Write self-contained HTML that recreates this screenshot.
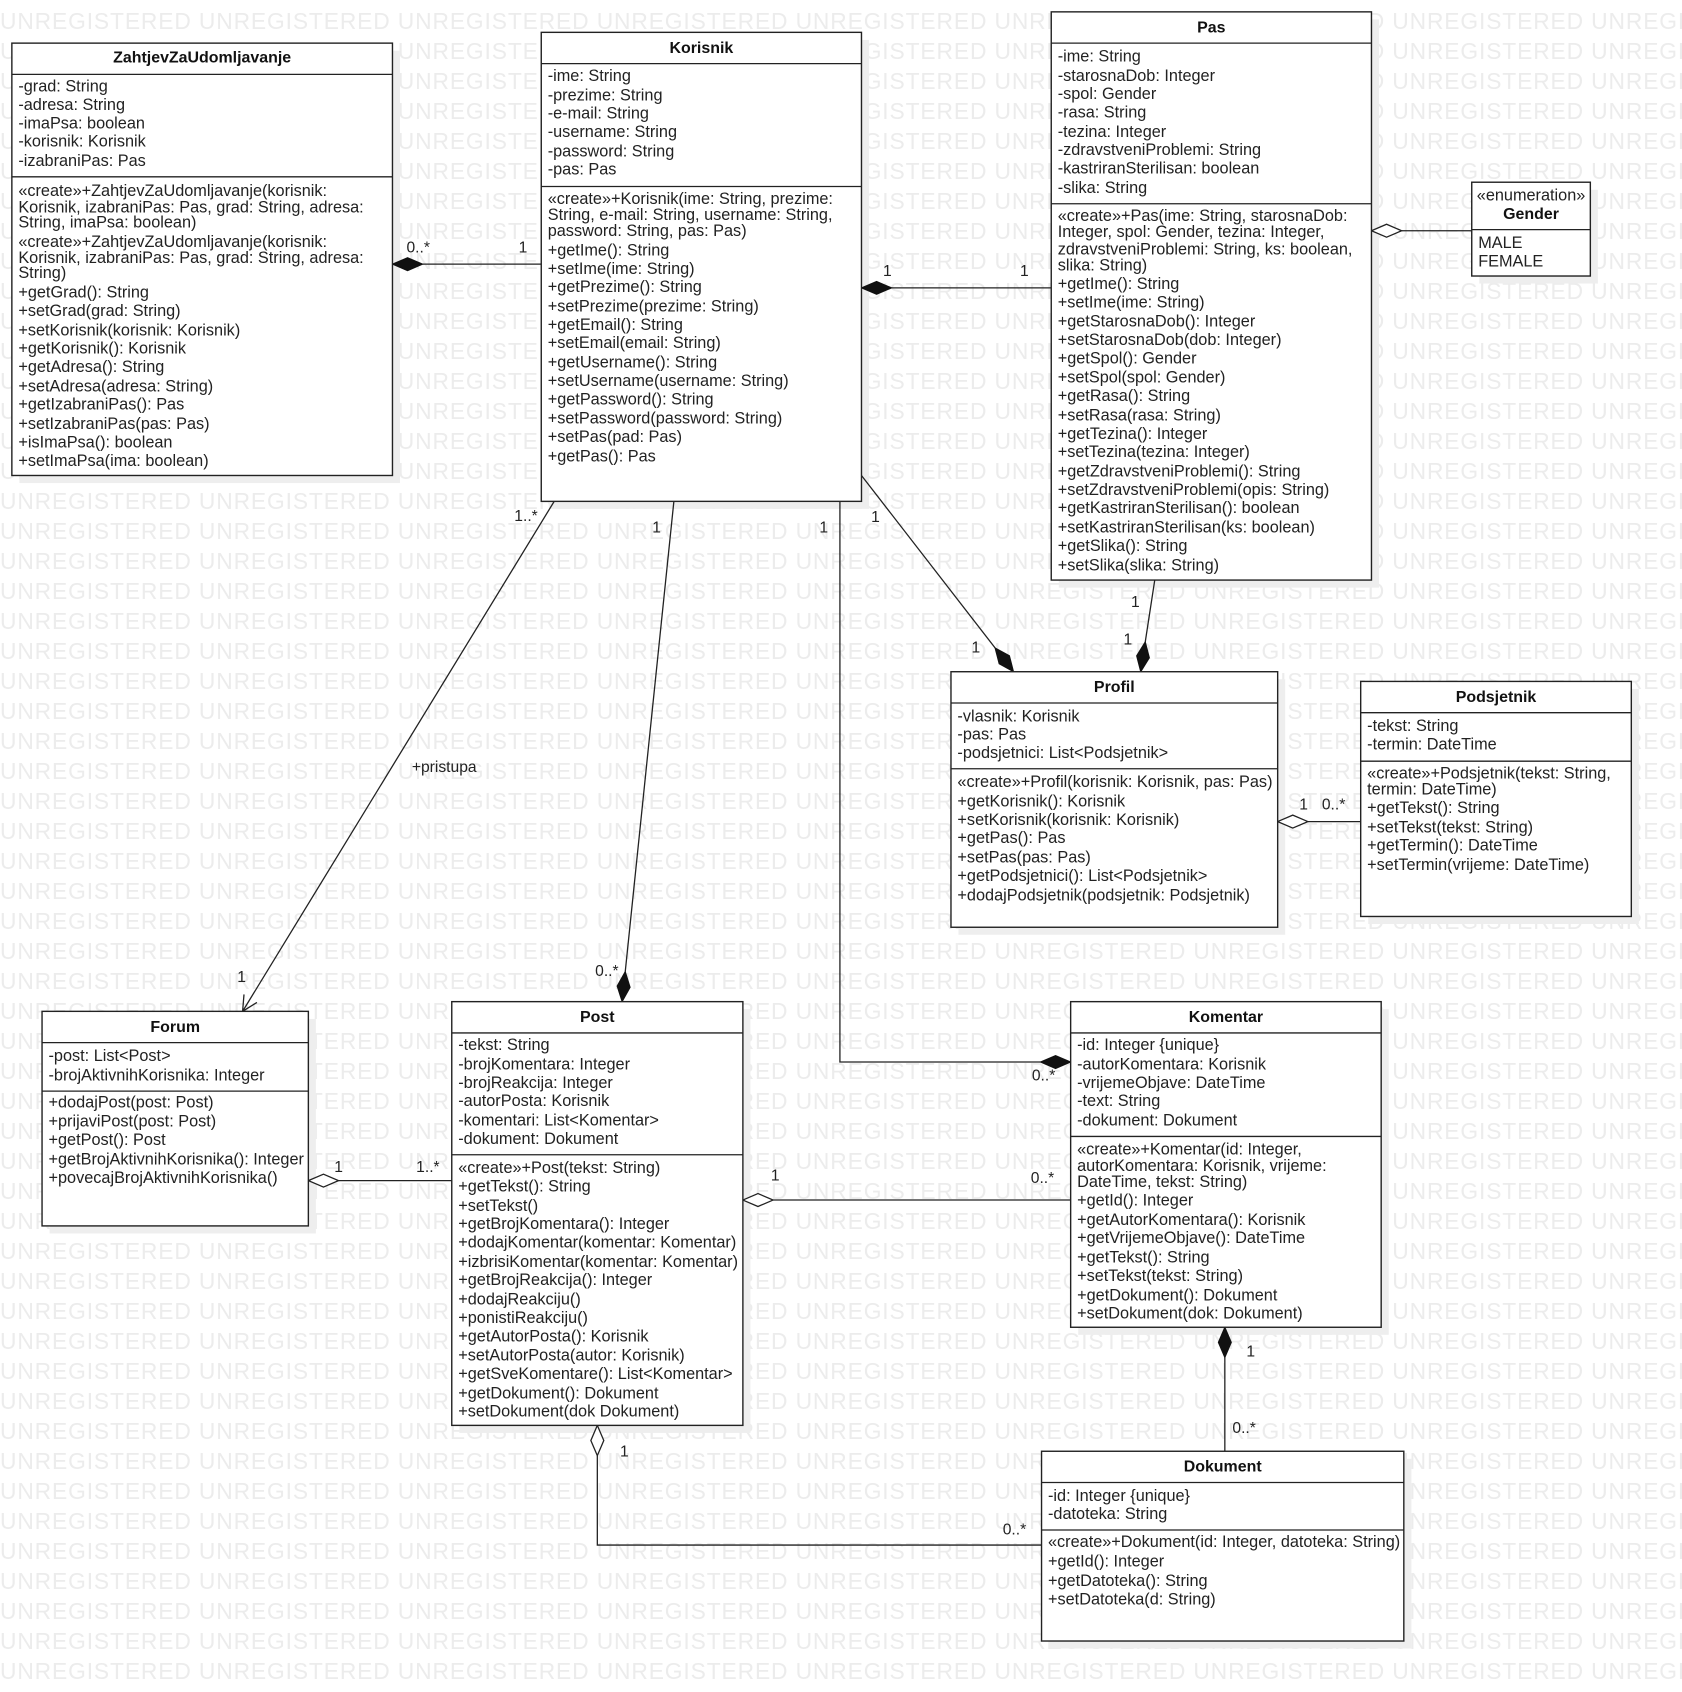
<!DOCTYPE html>
<html><head><meta charset="utf-8"><style>
html,body{margin:0;padding:0;background:#fff;}
svg{display:block;}
.wm{font-family:"Liberation Sans",sans-serif;font-size:22.8px;fill:#ececec;}
.t{font-family:"Liberation Sans",sans-serif;font-size:15.1px;fill:#222;}
.b{font-family:"Liberation Sans",sans-serif;font-size:14.8px;font-weight:bold;fill:#111;}
.box{fill:#fff;stroke:#222;stroke-width:1.3;}
.sh{fill:#eeeeee;}
.ln{stroke:#222;stroke-width:1.2;fill:none;}
</style></head><body>
<svg width="1682" height="1692" viewBox="0 0 1682 1692" xmlns="http://www.w3.org/2000/svg">
<g class="wm">
<text x="0" y="29" textLength="1782" lengthAdjust="spacing">UNREGISTERED UNREGISTERED UNREGISTERED UNREGISTERED UNREGISTERED UNREGISTERED UNREGISTERED UNREGISTERED UNREGISTERED</text>
<text x="0" y="59" textLength="1782" lengthAdjust="spacing">UNREGISTERED UNREGISTERED UNREGISTERED UNREGISTERED UNREGISTERED UNREGISTERED UNREGISTERED UNREGISTERED UNREGISTERED</text>
<text x="0" y="89" textLength="1782" lengthAdjust="spacing">UNREGISTERED UNREGISTERED UNREGISTERED UNREGISTERED UNREGISTERED UNREGISTERED UNREGISTERED UNREGISTERED UNREGISTERED</text>
<text x="0" y="119" textLength="1782" lengthAdjust="spacing">UNREGISTERED UNREGISTERED UNREGISTERED UNREGISTERED UNREGISTERED UNREGISTERED UNREGISTERED UNREGISTERED UNREGISTERED</text>
<text x="0" y="149" textLength="1782" lengthAdjust="spacing">UNREGISTERED UNREGISTERED UNREGISTERED UNREGISTERED UNREGISTERED UNREGISTERED UNREGISTERED UNREGISTERED UNREGISTERED</text>
<text x="0" y="179" textLength="1782" lengthAdjust="spacing">UNREGISTERED UNREGISTERED UNREGISTERED UNREGISTERED UNREGISTERED UNREGISTERED UNREGISTERED UNREGISTERED UNREGISTERED</text>
<text x="0" y="209" textLength="1782" lengthAdjust="spacing">UNREGISTERED UNREGISTERED UNREGISTERED UNREGISTERED UNREGISTERED UNREGISTERED UNREGISTERED UNREGISTERED UNREGISTERED</text>
<text x="0" y="239" textLength="1782" lengthAdjust="spacing">UNREGISTERED UNREGISTERED UNREGISTERED UNREGISTERED UNREGISTERED UNREGISTERED UNREGISTERED UNREGISTERED UNREGISTERED</text>
<text x="0" y="269" textLength="1782" lengthAdjust="spacing">UNREGISTERED UNREGISTERED UNREGISTERED UNREGISTERED UNREGISTERED UNREGISTERED UNREGISTERED UNREGISTERED UNREGISTERED</text>
<text x="0" y="299" textLength="1782" lengthAdjust="spacing">UNREGISTERED UNREGISTERED UNREGISTERED UNREGISTERED UNREGISTERED UNREGISTERED UNREGISTERED UNREGISTERED UNREGISTERED</text>
<text x="0" y="329" textLength="1782" lengthAdjust="spacing">UNREGISTERED UNREGISTERED UNREGISTERED UNREGISTERED UNREGISTERED UNREGISTERED UNREGISTERED UNREGISTERED UNREGISTERED</text>
<text x="0" y="359" textLength="1782" lengthAdjust="spacing">UNREGISTERED UNREGISTERED UNREGISTERED UNREGISTERED UNREGISTERED UNREGISTERED UNREGISTERED UNREGISTERED UNREGISTERED</text>
<text x="0" y="389" textLength="1782" lengthAdjust="spacing">UNREGISTERED UNREGISTERED UNREGISTERED UNREGISTERED UNREGISTERED UNREGISTERED UNREGISTERED UNREGISTERED UNREGISTERED</text>
<text x="0" y="419" textLength="1782" lengthAdjust="spacing">UNREGISTERED UNREGISTERED UNREGISTERED UNREGISTERED UNREGISTERED UNREGISTERED UNREGISTERED UNREGISTERED UNREGISTERED</text>
<text x="0" y="449" textLength="1782" lengthAdjust="spacing">UNREGISTERED UNREGISTERED UNREGISTERED UNREGISTERED UNREGISTERED UNREGISTERED UNREGISTERED UNREGISTERED UNREGISTERED</text>
<text x="0" y="479" textLength="1782" lengthAdjust="spacing">UNREGISTERED UNREGISTERED UNREGISTERED UNREGISTERED UNREGISTERED UNREGISTERED UNREGISTERED UNREGISTERED UNREGISTERED</text>
<text x="0" y="509" textLength="1782" lengthAdjust="spacing">UNREGISTERED UNREGISTERED UNREGISTERED UNREGISTERED UNREGISTERED UNREGISTERED UNREGISTERED UNREGISTERED UNREGISTERED</text>
<text x="0" y="539" textLength="1782" lengthAdjust="spacing">UNREGISTERED UNREGISTERED UNREGISTERED UNREGISTERED UNREGISTERED UNREGISTERED UNREGISTERED UNREGISTERED UNREGISTERED</text>
<text x="0" y="569" textLength="1782" lengthAdjust="spacing">UNREGISTERED UNREGISTERED UNREGISTERED UNREGISTERED UNREGISTERED UNREGISTERED UNREGISTERED UNREGISTERED UNREGISTERED</text>
<text x="0" y="599" textLength="1782" lengthAdjust="spacing">UNREGISTERED UNREGISTERED UNREGISTERED UNREGISTERED UNREGISTERED UNREGISTERED UNREGISTERED UNREGISTERED UNREGISTERED</text>
<text x="0" y="629" textLength="1782" lengthAdjust="spacing">UNREGISTERED UNREGISTERED UNREGISTERED UNREGISTERED UNREGISTERED UNREGISTERED UNREGISTERED UNREGISTERED UNREGISTERED</text>
<text x="0" y="659" textLength="1782" lengthAdjust="spacing">UNREGISTERED UNREGISTERED UNREGISTERED UNREGISTERED UNREGISTERED UNREGISTERED UNREGISTERED UNREGISTERED UNREGISTERED</text>
<text x="0" y="689" textLength="1782" lengthAdjust="spacing">UNREGISTERED UNREGISTERED UNREGISTERED UNREGISTERED UNREGISTERED UNREGISTERED UNREGISTERED UNREGISTERED UNREGISTERED</text>
<text x="0" y="719" textLength="1782" lengthAdjust="spacing">UNREGISTERED UNREGISTERED UNREGISTERED UNREGISTERED UNREGISTERED UNREGISTERED UNREGISTERED UNREGISTERED UNREGISTERED</text>
<text x="0" y="749" textLength="1782" lengthAdjust="spacing">UNREGISTERED UNREGISTERED UNREGISTERED UNREGISTERED UNREGISTERED UNREGISTERED UNREGISTERED UNREGISTERED UNREGISTERED</text>
<text x="0" y="779" textLength="1782" lengthAdjust="spacing">UNREGISTERED UNREGISTERED UNREGISTERED UNREGISTERED UNREGISTERED UNREGISTERED UNREGISTERED UNREGISTERED UNREGISTERED</text>
<text x="0" y="809" textLength="1782" lengthAdjust="spacing">UNREGISTERED UNREGISTERED UNREGISTERED UNREGISTERED UNREGISTERED UNREGISTERED UNREGISTERED UNREGISTERED UNREGISTERED</text>
<text x="0" y="839" textLength="1782" lengthAdjust="spacing">UNREGISTERED UNREGISTERED UNREGISTERED UNREGISTERED UNREGISTERED UNREGISTERED UNREGISTERED UNREGISTERED UNREGISTERED</text>
<text x="0" y="869" textLength="1782" lengthAdjust="spacing">UNREGISTERED UNREGISTERED UNREGISTERED UNREGISTERED UNREGISTERED UNREGISTERED UNREGISTERED UNREGISTERED UNREGISTERED</text>
<text x="0" y="899" textLength="1782" lengthAdjust="spacing">UNREGISTERED UNREGISTERED UNREGISTERED UNREGISTERED UNREGISTERED UNREGISTERED UNREGISTERED UNREGISTERED UNREGISTERED</text>
<text x="0" y="929" textLength="1782" lengthAdjust="spacing">UNREGISTERED UNREGISTERED UNREGISTERED UNREGISTERED UNREGISTERED UNREGISTERED UNREGISTERED UNREGISTERED UNREGISTERED</text>
<text x="0" y="959" textLength="1782" lengthAdjust="spacing">UNREGISTERED UNREGISTERED UNREGISTERED UNREGISTERED UNREGISTERED UNREGISTERED UNREGISTERED UNREGISTERED UNREGISTERED</text>
<text x="0" y="989" textLength="1782" lengthAdjust="spacing">UNREGISTERED UNREGISTERED UNREGISTERED UNREGISTERED UNREGISTERED UNREGISTERED UNREGISTERED UNREGISTERED UNREGISTERED</text>
<text x="0" y="1019" textLength="1782" lengthAdjust="spacing">UNREGISTERED UNREGISTERED UNREGISTERED UNREGISTERED UNREGISTERED UNREGISTERED UNREGISTERED UNREGISTERED UNREGISTERED</text>
<text x="0" y="1049" textLength="1782" lengthAdjust="spacing">UNREGISTERED UNREGISTERED UNREGISTERED UNREGISTERED UNREGISTERED UNREGISTERED UNREGISTERED UNREGISTERED UNREGISTERED</text>
<text x="0" y="1079" textLength="1782" lengthAdjust="spacing">UNREGISTERED UNREGISTERED UNREGISTERED UNREGISTERED UNREGISTERED UNREGISTERED UNREGISTERED UNREGISTERED UNREGISTERED</text>
<text x="0" y="1109" textLength="1782" lengthAdjust="spacing">UNREGISTERED UNREGISTERED UNREGISTERED UNREGISTERED UNREGISTERED UNREGISTERED UNREGISTERED UNREGISTERED UNREGISTERED</text>
<text x="0" y="1139" textLength="1782" lengthAdjust="spacing">UNREGISTERED UNREGISTERED UNREGISTERED UNREGISTERED UNREGISTERED UNREGISTERED UNREGISTERED UNREGISTERED UNREGISTERED</text>
<text x="0" y="1169" textLength="1782" lengthAdjust="spacing">UNREGISTERED UNREGISTERED UNREGISTERED UNREGISTERED UNREGISTERED UNREGISTERED UNREGISTERED UNREGISTERED UNREGISTERED</text>
<text x="0" y="1199" textLength="1782" lengthAdjust="spacing">UNREGISTERED UNREGISTERED UNREGISTERED UNREGISTERED UNREGISTERED UNREGISTERED UNREGISTERED UNREGISTERED UNREGISTERED</text>
<text x="0" y="1229" textLength="1782" lengthAdjust="spacing">UNREGISTERED UNREGISTERED UNREGISTERED UNREGISTERED UNREGISTERED UNREGISTERED UNREGISTERED UNREGISTERED UNREGISTERED</text>
<text x="0" y="1259" textLength="1782" lengthAdjust="spacing">UNREGISTERED UNREGISTERED UNREGISTERED UNREGISTERED UNREGISTERED UNREGISTERED UNREGISTERED UNREGISTERED UNREGISTERED</text>
<text x="0" y="1289" textLength="1782" lengthAdjust="spacing">UNREGISTERED UNREGISTERED UNREGISTERED UNREGISTERED UNREGISTERED UNREGISTERED UNREGISTERED UNREGISTERED UNREGISTERED</text>
<text x="0" y="1319" textLength="1782" lengthAdjust="spacing">UNREGISTERED UNREGISTERED UNREGISTERED UNREGISTERED UNREGISTERED UNREGISTERED UNREGISTERED UNREGISTERED UNREGISTERED</text>
<text x="0" y="1349" textLength="1782" lengthAdjust="spacing">UNREGISTERED UNREGISTERED UNREGISTERED UNREGISTERED UNREGISTERED UNREGISTERED UNREGISTERED UNREGISTERED UNREGISTERED</text>
<text x="0" y="1379" textLength="1782" lengthAdjust="spacing">UNREGISTERED UNREGISTERED UNREGISTERED UNREGISTERED UNREGISTERED UNREGISTERED UNREGISTERED UNREGISTERED UNREGISTERED</text>
<text x="0" y="1409" textLength="1782" lengthAdjust="spacing">UNREGISTERED UNREGISTERED UNREGISTERED UNREGISTERED UNREGISTERED UNREGISTERED UNREGISTERED UNREGISTERED UNREGISTERED</text>
<text x="0" y="1439" textLength="1782" lengthAdjust="spacing">UNREGISTERED UNREGISTERED UNREGISTERED UNREGISTERED UNREGISTERED UNREGISTERED UNREGISTERED UNREGISTERED UNREGISTERED</text>
<text x="0" y="1469" textLength="1782" lengthAdjust="spacing">UNREGISTERED UNREGISTERED UNREGISTERED UNREGISTERED UNREGISTERED UNREGISTERED UNREGISTERED UNREGISTERED UNREGISTERED</text>
<text x="0" y="1499" textLength="1782" lengthAdjust="spacing">UNREGISTERED UNREGISTERED UNREGISTERED UNREGISTERED UNREGISTERED UNREGISTERED UNREGISTERED UNREGISTERED UNREGISTERED</text>
<text x="0" y="1529" textLength="1782" lengthAdjust="spacing">UNREGISTERED UNREGISTERED UNREGISTERED UNREGISTERED UNREGISTERED UNREGISTERED UNREGISTERED UNREGISTERED UNREGISTERED</text>
<text x="0" y="1559" textLength="1782" lengthAdjust="spacing">UNREGISTERED UNREGISTERED UNREGISTERED UNREGISTERED UNREGISTERED UNREGISTERED UNREGISTERED UNREGISTERED UNREGISTERED</text>
<text x="0" y="1589" textLength="1782" lengthAdjust="spacing">UNREGISTERED UNREGISTERED UNREGISTERED UNREGISTERED UNREGISTERED UNREGISTERED UNREGISTERED UNREGISTERED UNREGISTERED</text>
<text x="0" y="1619" textLength="1782" lengthAdjust="spacing">UNREGISTERED UNREGISTERED UNREGISTERED UNREGISTERED UNREGISTERED UNREGISTERED UNREGISTERED UNREGISTERED UNREGISTERED</text>
<text x="0" y="1649" textLength="1782" lengthAdjust="spacing">UNREGISTERED UNREGISTERED UNREGISTERED UNREGISTERED UNREGISTERED UNREGISTERED UNREGISTERED UNREGISTERED UNREGISTERED</text>
<text x="0" y="1679" textLength="1782" lengthAdjust="spacing">UNREGISTERED UNREGISTERED UNREGISTERED UNREGISTERED UNREGISTERED UNREGISTERED UNREGISTERED UNREGISTERED UNREGISTERED</text>
</g>

<g transform="scale(1.0782)">
<!-- shadows -->
<rect class="sh" x="18" y="47" width="353" height="401"/>
<rect class="sh" x="509" y="37" width="297" height="435"/>
<rect class="sh" x="982" y="18" width="297" height="527"/>
<rect class="sh" x="1372" y="176" width="110" height="87"/>
<rect class="sh" x="889" y="630" width="303" height="237"/>
<rect class="sh" x="1269" y="639" width="251" height="218"/>
<rect class="sh" x="46" y="945" width="247" height="199"/>
<rect class="sh" x="426" y="936" width="270" height="393"/>
<rect class="sh" x="1000" y="936" width="288" height="302"/>
<rect class="sh" x="973" y="1353" width="336" height="176"/>

<!-- connectors -->
<g class="ln">
<line x1="392" y1="245" x2="502" y2="245"/>
<line x1="827" y1="267" x2="975" y2="267"/>
<line x1="1300" y1="214" x2="1365" y2="214"/>
<line x1="514" y1="465" x2="225" y2="938"/>
<polyline points="238.3,929.7 225,938 226.3,922.3"/>
<line x1="625" y1="465" x2="579.9" y2="901.1"/>
<polyline points="779,465 779,985 965,985"/>
<line x1="799" y1="441" x2="922.9" y2="600.9"/>
<line x1="1071" y1="538" x2="1062.2" y2="595.3"/>
<line x1="1213" y1="762" x2="1262" y2="762"/>
<line x1="314" y1="1095" x2="419" y2="1095"/>
<line x1="717" y1="1113" x2="993" y2="1113"/>
<line x1="1136" y1="1259" x2="1136" y2="1346"/>
<polyline points="554,1350 554,1433 966,1433"/>
</g>
<g fill="#111" stroke="#111" stroke-width="1">
<polygon points="364,245 378,239 392,245 378,251"/>
<polygon points="799,267 813,261 827,267 813,273"/>
<polygon points="577,929 584.4,915.7 579.9,901.1 572.4,914.5"/>
<polygon points="993,985 979,979 965,985 979,991"/>
<polygon points="940,623 936.2,608.2 922.9,600.9 926.7,615.6"/>
<polygon points="1058,623 1066,610.1 1062.2,595.3 1054.2,608.3"/>
<polygon points="1136,1231 1142,1245 1136,1259 1130,1245"/>
</g>
<g fill="#fff" stroke="#222" stroke-width="1.2">
<polygon points="1272,214 1286,208 1300,214 1286,220"/>
<polygon points="1185,762 1199,756 1213,762 1199,768"/>
<polygon points="286,1095 300,1089 314,1095 300,1101"/>
<polygon points="689,1113 703,1107 717,1113 703,1119"/>
<polygon points="554,1322 560,1336 554,1350 548,1336"/>
</g>
<g class="t" style="font-size:14.5px">
<text x="377" y="234">0..*</text><text x="481" y="234">1</text>
<text x="819" y="256">1</text><text x="946" y="256">1</text>
<text x="477" y="483">1..*</text><text x="220" y="911">1</text><text x="382" y="716">+pristupa</text>
<text x="605" y="494">1</text><text x="552" y="905">0..*</text>
<text x="760" y="494">1</text><text x="957" y="1002">0..*</text>
<text x="808" y="484">1</text><text x="901" y="605">1</text>
<text x="1049" y="563">1</text><text x="1042" y="598">1</text>
<text x="1205" y="751">1</text><text x="1226" y="751">0..*</text>
<text x="310" y="1087">1</text><text x="386" y="1087">1..*</text>
<text x="715" y="1095">1</text><text x="956" y="1097">0..*</text>
<text x="1156" y="1258">1</text><text x="1143" y="1329">0..*</text>
<text x="575" y="1351">1</text><text x="930" y="1423">0..*</text>
</g>

<!-- ZahtjevZaUdomljavanje -->
<rect class="box" x="11" y="40" width="353" height="401"/>
<line class="ln" x1="11" y1="69" x2="364" y2="69"/><line class="ln" x1="11" y1="164" x2="364" y2="164"/>
<text class="b" x="187.5" y="58" text-anchor="middle">ZahtjevZaUdomljavanje</text>
<g class="t">
<text x="17" y="85">-grad: String</text><text x="17" y="102">-adresa: String</text><text x="17" y="119">-imaPsa: boolean</text><text x="17" y="136">-korisnik: Korisnik</text><text x="17" y="154">-izabraniPas: Pas</text>
<text x="17" y="182">«create»+ZahtjevZaUdomljavanje(korisnik:</text>
<text x="17" y="197">Korisnik, izabraniPas: Pas, grad: String, adresa:</text>
<text x="17" y="211">String, imaPsa: boolean)</text>
<text x="17" y="229">«create»+ZahtjevZaUdomljavanje(korisnik:</text>
<text x="17" y="244">Korisnik, izabraniPas: Pas, grad: String, adresa:</text>
<text x="17" y="258">String)</text>
<text x="17" y="276">+getGrad(): String</text><text x="17" y="293">+setGrad(grad: String)</text><text x="17" y="311">+setKorisnik(korisnik: Korisnik)</text><text x="17" y="328">+getKorisnik(): Korisnik</text><text x="17" y="345">+getAdresa(): String</text><text x="17" y="363">+setAdresa(adresa: String)</text><text x="17" y="380">+getIzabraniPas(): Pas</text><text x="17" y="398">+setIzabraniPas(pas: Pas)</text><text x="17" y="415">+isImaPsa(): boolean</text><text x="17" y="432">+setImaPsa(ima: boolean)</text>
</g>

<!-- Korisnik -->
<rect class="box" x="502" y="30" width="297" height="435"/>
<line class="ln" x1="502" y1="59" x2="799" y2="59"/><line class="ln" x1="502" y1="173" x2="799" y2="173"/>
<text class="b" x="650.5" y="49" text-anchor="middle">Korisnik</text>
<g class="t">
<text x="508" y="75">-ime: String</text><text x="508" y="93">-prezime: String</text><text x="508" y="110">-e-mail: String</text><text x="508" y="127">-username: String</text><text x="508" y="145">-password: String</text><text x="508" y="162">-pas: Pas</text>
<text x="508" y="189">«create»+Korisnik(ime: String, prezime:</text>
<text x="508" y="204">String, e-mail: String, username: String,</text>
<text x="508" y="219">password: String, pas: Pas)</text>
<text x="508" y="237">+getIme(): String</text><text x="508" y="254">+setIme(ime: String)</text><text x="508" y="271">+getPrezime(): String</text><text x="508" y="289">+setPrezime(prezime: String)</text><text x="508" y="306">+getEmail(): String</text><text x="508" y="323">+setEmail(email: String)</text><text x="508" y="341">+getUsername(): String</text><text x="508" y="358">+setUsername(username: String)</text><text x="508" y="375">+getPassword(): String</text><text x="508" y="393">+setPassword(password: String)</text><text x="508" y="410">+setPas(pad: Pas)</text><text x="508" y="428">+getPas(): Pas</text>
</g>

<!-- Pas -->
<rect class="box" x="975" y="11" width="297" height="527"/>
<line class="ln" x1="975" y1="40" x2="1272" y2="40"/><line class="ln" x1="975" y1="189" x2="1272" y2="189"/>
<text class="b" x="1123.5" y="30" text-anchor="middle">Pas</text>
<g class="t">
<text x="981" y="57">-ime: String</text><text x="981" y="75">-starosnaDob: Integer</text><text x="981" y="92">-spol: Gender</text><text x="981" y="109">-rasa: String</text><text x="981" y="127">-tezina: Integer</text><text x="981" y="144">-zdravstveniProblemi: String</text><text x="981" y="161">-kastriranSterilisan: boolean</text><text x="981" y="179">-slika: String</text>
<text x="981" y="205">«create»+Pas(ime: String, starosnaDob:</text>
<text x="981" y="220">Integer, spol: Gender, tezina: Integer,</text>
<text x="981" y="236">zdravstveniProblemi: String, ks: boolean,</text>
<text x="981" y="251">slika: String)</text>
<text x="981" y="268">+getIme(): String</text><text x="981" y="285">+setIme(ime: String)</text><text x="981" y="303">+getStarosnaDob(): Integer</text><text x="981" y="320">+setStarosnaDob(dob: Integer)</text><text x="981" y="337">+getSpol(): Gender</text><text x="981" y="355">+setSpol(spol: Gender)</text><text x="981" y="372">+getRasa(): String</text><text x="981" y="390">+setRasa(rasa: String)</text><text x="981" y="407">+getTezina(): Integer</text><text x="981" y="424">+setTezina(tezina: Integer)</text><text x="981" y="442">+getZdravstveniProblemi(): String</text><text x="981" y="459">+setZdravstveniProblemi(opis: String)</text><text x="981" y="476">+getKastriranSterilisan(): boolean</text><text x="981" y="494">+setKastriranSterilisan(ks: boolean)</text><text x="981" y="511">+getSlika(): String</text><text x="981" y="529">+setSlika(slika: String)</text>
</g>

<!-- Gender -->
<rect class="box" x="1365" y="169" width="110" height="87"/>
<line class="ln" x1="1365" y1="213" x2="1475" y2="213"/>
<text class="t" x="1420" y="186" text-anchor="middle">«enumeration»</text>
<text class="b" x="1420" y="203" text-anchor="middle">Gender</text>
<text class="t" x="1371" y="230">MALE</text><text class="t" x="1371" y="247">FEMALE</text>

<!-- Profil -->
<rect class="box" x="882" y="623" width="303" height="237"/>
<line class="ln" x1="882" y1="652" x2="1185" y2="652"/><line class="ln" x1="882" y1="713" x2="1185" y2="713"/>
<text class="b" x="1033.5" y="642" text-anchor="middle">Profil</text>
<g class="t">
<text x="888" y="669">-vlasnik: Korisnik</text><text x="888" y="686">-pas: Pas</text><text x="888" y="703">-podsjetnici: List&lt;Podsjetnik&gt;</text>
<text x="888" y="730">«create»+Profil(korisnik: Korisnik, pas: Pas)</text><text x="888" y="748">+getKorisnik(): Korisnik</text><text x="888" y="765">+setKorisnik(korisnik: Korisnik)</text><text x="888" y="782">+getPas(): Pas</text><text x="888" y="800">+setPas(pas: Pas)</text><text x="888" y="817">+getPodsjetnici(): List&lt;Podsjetnik&gt;</text><text x="888" y="835">+dodajPodsjetnik(podsjetnik: Podsjetnik)</text>
</g>

<!-- Podsjetnik -->
<rect class="box" x="1262" y="632" width="251" height="218"/>
<line class="ln" x1="1262" y1="661" x2="1513" y2="661"/><line class="ln" x1="1262" y1="706" x2="1513" y2="706"/>
<text class="b" x="1387.5" y="651" text-anchor="middle">Podsjetnik</text>
<g class="t">
<text x="1268" y="678">-tekst: String</text><text x="1268" y="695">-termin: DateTime</text>
<text x="1268" y="722">«create»+Podsjetnik(tekst: String,</text><text x="1268" y="737">termin: DateTime)</text><text x="1268" y="754">+getTekst(): String</text><text x="1268" y="772">+setTekst(tekst: String)</text><text x="1268" y="789">+getTermin(): DateTime</text><text x="1268" y="807">+setTermin(vrijeme: DateTime)</text>
</g>

<!-- Forum -->
<rect class="box" x="39" y="938" width="247" height="199"/>
<line class="ln" x1="39" y1="967" x2="286" y2="967"/><line class="ln" x1="39" y1="1012" x2="286" y2="1012"/>
<text class="b" x="162.5" y="957" text-anchor="middle">Forum</text>
<g class="t">
<text x="45" y="984">-post: List&lt;Post&gt;</text><text x="45" y="1002">-brojAktivnihKorisnika: Integer</text>
<text x="45" y="1027">+dodajPost(post: Post)</text><text x="45" y="1045">+prijaviPost(post: Post)</text><text x="45" y="1062">+getPost(): Post</text><text x="45" y="1080">+getBrojAktivnihKorisnika(): Integer</text><text x="45" y="1097">+povecajBrojAktivnihKorisnika()</text>
</g>

<!-- Post -->
<rect class="box" x="419" y="929" width="270" height="393"/>
<line class="ln" x1="419" y1="958" x2="689" y2="958"/><line class="ln" x1="419" y1="1071" x2="689" y2="1071"/>
<text class="b" x="554" y="948" text-anchor="middle">Post</text>
<g class="t">
<text x="425" y="974">-tekst: String</text><text x="425" y="992">-brojKomentara: Integer</text><text x="425" y="1009">-brojReakcija: Integer</text><text x="425" y="1026">-autorPosta: Korisnik</text><text x="425" y="1044">-komentari: List&lt;Komentar&gt;</text><text x="425" y="1061">-dokument: Dokument</text>
<text x="425" y="1088">«create»+Post(tekst: String)</text><text x="425" y="1105">+getTekst(): String</text><text x="425" y="1123">+setTekst()</text><text x="425" y="1140">+getBrojKomentara(): Integer</text><text x="425" y="1157">+dodajKomentar(komentar: Komentar)</text><text x="425" y="1175">+izbrisiKomentar(komentar: Komentar)</text><text x="425" y="1192">+getBrojReakcija(): Integer</text><text x="425" y="1210">+dodajReakciju()</text><text x="425" y="1227">+ponistiReakciju()</text><text x="425" y="1244">+getAutorPosta(): Korisnik</text><text x="425" y="1262">+setAutorPosta(autor: Korisnik)</text><text x="425" y="1279">+getSveKomentare(): List&lt;Komentar&gt;</text><text x="425" y="1297">+getDokument(): Dokument</text><text x="425" y="1314">+setDokument(dok Dokument)</text>
</g>

<!-- Komentar -->
<rect class="box" x="993" y="929" width="288" height="302"/>
<line class="ln" x1="993" y1="958" x2="1281" y2="958"/><line class="ln" x1="993" y1="1054" x2="1281" y2="1054"/>
<text class="b" x="1137" y="948" text-anchor="middle">Komentar</text>
<g class="t">
<text x="999" y="974">-id: Integer {unique}</text><text x="999" y="992">-autorKomentara: Korisnik</text><text x="999" y="1009">-vrijemeObjave: DateTime</text><text x="999" y="1026">-text: String</text><text x="999" y="1044">-dokument: Dokument</text>
<text x="999" y="1071">«create»+Komentar(id: Integer,</text><text x="999" y="1086">autorKomentara: Korisnik, vrijeme:</text><text x="999" y="1101">DateTime, tekst: String)</text>
<text x="999" y="1118">+getId(): Integer</text><text x="999" y="1136">+getAutorKomentara(): Korisnik</text><text x="999" y="1153">+getVrijemeObjave(): DateTime</text><text x="999" y="1171">+getTekst(): String</text><text x="999" y="1188">+setTekst(tekst: String)</text><text x="999" y="1206">+getDokument(): Dokument</text><text x="999" y="1223">+setDokument(dok: Dokument)</text>
</g>

<!-- Dokument -->
<rect class="box" x="966" y="1346" width="336" height="176"/>
<line class="ln" x1="966" y1="1375" x2="1302" y2="1375"/><line class="ln" x1="966" y1="1419" x2="1302" y2="1419"/>
<text class="b" x="1134" y="1365" text-anchor="middle">Dokument</text>
<g class="t">
<text x="972" y="1392">-id: Integer {unique}</text><text x="972" y="1409">-datoteka: String</text>
<text x="972" y="1435">«create»+Dokument(id: Integer, datoteka: String)</text><text x="972" y="1453">+getId(): Integer</text><text x="972" y="1471">+getDatoteka(): String</text><text x="972" y="1488">+setDatoteka(d: String)</text>
</g>
</g>
</svg>
</body></html>
